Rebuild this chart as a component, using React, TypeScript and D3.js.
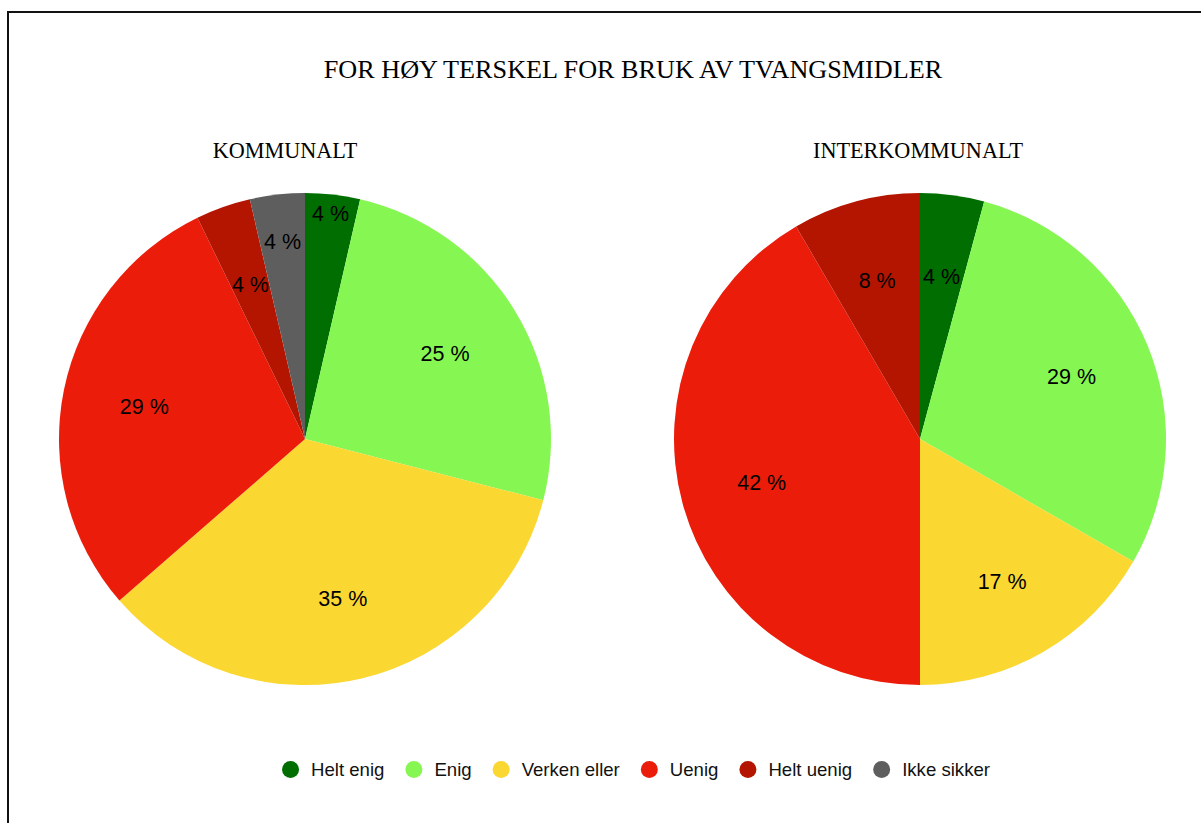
import { useRef, useEffect } from "react";
import * as d3 from "d3";

const categories = ["Helt enig", "Enig", "Verken eller", "Uenig", "Helt uenig", "Ikke sikker"];
const colors = ["#006e00", "#86f752", "#fbd732", "#eb1d0a", "#b41500", "#5e5e5e"];
const kommunalt = [3.6, 25.4, 34.6, 29.2, 3.6, 3.6];
const interkommunalt = [4.2, 29.1, 16.7, 41.6, 8.4, 0];
const chartTitle = "FOR HØY TERSKEL FOR BRUK AV TVANGSMIDLER";
const pieTitles = ["KOMMUNALT", "INTERKOMMUNALT"];

const W = 1201;
const H = 823;
const R = 246;
const LR = 164;
// small neighbouring slices get their labels pushed outward
const labelRadius = [
  [227, LR, LR, LR, LR, 199],
  [LR, LR, LR, LR, LR, LR],
];

export default function App() {
  const ref = useRef<SVGSVGElement>(null);

  useEffect(() => {
    if (!ref.current) return;
    const svg = d3.select(ref.current);
    svg.selectAll("*").remove();

    svg.append("rect")
      .attr("x", 8).attr("y", 12).attr("width", 1400).attr("height", 1000)
      .attr("fill", "none").attr("stroke", "#111").attr("stroke-width", 2);

    svg.append("text")
      .attr("x", 633).attr("y", 78)
      .attr("text-anchor", "middle")
      .attr("font-family", "Liberation Serif, Times New Roman, serif")
      .attr("font-size", 26.2)
      .attr("fill", "#000")
      .text(chartTitle);

    const pies = [
      { values: kommunalt, cx: 305, titleX: 285 },
      { values: interkommunalt, cx: 920, titleX: 918 },
    ];
    const cy = 439;
    const pie = d3.pie<number>().sort(null).value((d) => d);
    const arc = d3.arc<d3.PieArcDatum<number>>().innerRadius(0).outerRadius(R);

    pies.forEach((p, pi) => {
      svg.append("text")
        .attr("x", p.titleX).attr("y", 158)
        .attr("text-anchor", "middle")
        .attr("font-family", "Liberation Serif, Times New Roman, serif")
        .attr("font-size", 22.2)
        .attr("fill", "#000")
        .text(pieTitles[pi]);

      const g = svg.append("g").attr("transform", `translate(${p.cx},${cy})`);
      const arcs = pie(p.values);
      const total = d3.sum(p.values);

      g.selectAll("path")
        .data(arcs)
        .join("path")
        .attr("d", arc)
        .attr("fill", (_, i) => colors[i]);

      g.selectAll("text")
        .data(arcs.filter((a) => a.value > 0))
        .join("text")
        .attr("transform", (a) => {
          const rr = labelRadius[pi][a.index];
          const c = d3.arc<d3.PieArcDatum<number>>().innerRadius(rr).outerRadius(rr).centroid(a);
          return `translate(${c[0]},${c[1]})`;
        })
        .attr("text-anchor", "middle")
        .attr("dy", "0.36em")
        .attr("font-family", "Liberation Sans, Arial, sans-serif")
        .attr("font-size", 21.5)
        .attr("fill", "#000")
        .text((a) => `${Math.round((a.value / total) * 100)} %`);
    });

    // legend, laid out from measured text widths, centred
    const lg = svg.append("g").attr("transform", "translate(0,769.5)");
    const cr = 8.5;
    const offsets: number[] = [];
    let x = 0;
    const items = categories.map((c, i) => {
      const item = lg.append("g");
      item.append("circle").attr("cx", cr).attr("cy", 0).attr("r", cr).attr("fill", colors[i]);
      const t = item.append("text")
        .attr("x", cr * 2 + 12).attr("dy", "0.35em")
        .attr("font-family", "Liberation Sans, Arial, sans-serif")
        .attr("font-size", 18.6)
        .attr("fill", "#111")
        .text(c);
      const w = cr * 2 + 12 + (t.node() as SVGTextElement).getComputedTextLength();
      offsets.push(x);
      x += w + 21;
      return item;
    });
    const start = 636 - (x - 21) / 2;
    items.forEach((item, i) => item.attr("transform", `translate(${start + offsets[i]},0)`));
  }, []);

  return (
    <svg
      ref={ref}
      width={W}
      height={H}
      style={{ position: "absolute", left: 0, top: 0, background: "#fff" }}
    />
  );
}
